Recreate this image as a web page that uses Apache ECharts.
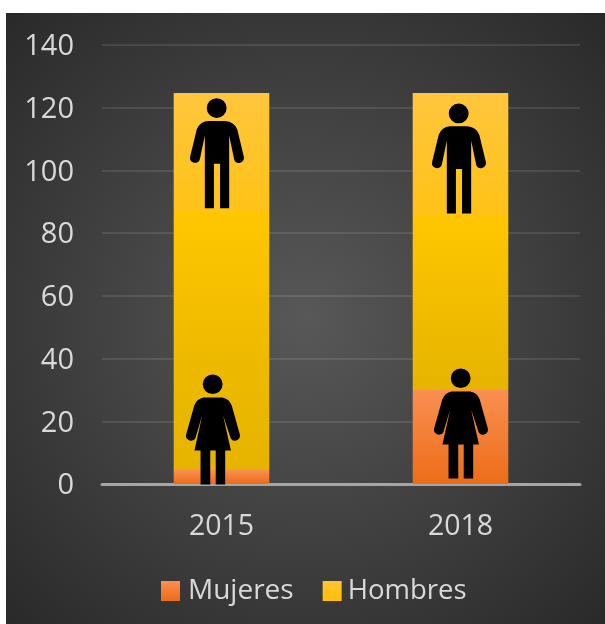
<!DOCTYPE html>
<html>
<head>
<meta charset="utf-8">
<title>Mujeres y Hombres</title>
<script src="https://cdn.jsdelivr.net/npm/echarts@6/dist/echarts.min.js"></script>
<style>
html, body { margin: 0; padding: 0; background: #fff; overflow: hidden; }
#chart-container { position: absolute; left: 6px; top: 13px; width: 599px; height: 611px; }
</style>
</head>
<body>
<div id="chart-container"></div>
<script>
var categories = ['2015', '2018'];
var mujeres = [4.5, 30];
var hombres = [120.2, 94.7];
// icon centres, read in axis units
var manValues = [105.5, 103.8];
var womanValues = [17.4, 19.3];

var manPath = 'path://M26.7 0A9.8 9.8 0 1 1 26.69 0ZM18 22.5L35 22.5Q44 23 47 31L53.5 58A5 5 0 0 1 44 61L39 37L39 109L30 109L30 65L24 65L24 109L15 109L15 37L10 61A5 5 0 0 1 0.5 58L7 31Q10 23 18 22.5Z';
var womanPath = 'path://M26.7 0A9.8 9.8 0 1 1 26.69 0ZM18 23L36 23Q43 24 45.5 31L53.5 60A5 5 0 0 1 44.5 64L37 41L44.7 76L39 76L39 110L29.7 110L29.7 76L24.3 76L24.3 110L14.7 110L14.7 76L8.7 76L16.3 41L9.5 64A5 5 0 0 1 0.5 60L8.5 31Q11 24 18 23Z';

function vert(stops) {
    return new echarts.graphic.LinearGradient(0, 0, 0, 1, stops.map(function (s) {
        return { offset: s[0], color: s[1] };
    }));
}

var orange = vert([[0, '#fa8f52'], [1, '#ec6d17']]);
var yellow = vert([[0, '#ffc535'], [1, '#ffc000']]);

var option = {
    backgroundColor: new echarts.graphic.RadialGradient(0.5, 0.5, 0.72, [
        { offset: 0, color: '#585858' },
        { offset: 1, color: '#292929' }
    ]),
    animation: false,
    textStyle: { fontFamily: '"Open Sans"' },
    legend: {
        data: [
            { name: 'Mujeres' },
            { name: 'Hombres', textStyle: { color: '#d9d9d9', fontSize: 27.5, padding: [4, 0, 0, 1] } }
        ],
        bottom: 14,
        left: 150,
        itemWidth: 19,
        itemHeight: 20,
        itemGap: 29,
        icon: 'rect',
        textStyle: { color: '#d9d9d9', fontSize: 28, padding: [4, 0, 0, 3] }
    },
    grid: { left: 96, right: 25, top: 32, bottom: 140 },
    xAxis: {
        type: 'category',
        data: categories,
        axisTick: { show: false },
        axisLine: { lineStyle: { color: '#a6a6a6', width: 3 } },
        axisLabel: { color: '#d9d9d9', fontSize: 28.5, margin: 28 }
    },
    yAxis: {
        type: 'value',
        min: 0,
        max: 140,
        interval: 20,
        axisLine: { show: false },
        axisTick: { show: false },
        splitLine: { lineStyle: { color: 'rgba(255,255,255,0.1)', width: 2 } },
        axisLabel: { color: '#d9d9d9', fontSize: 29, margin: 28, verticalAlign: 'top', lineHeight: 4 }
    },
    series: [
        {
            name: 'Mujeres',
            type: 'bar',
            stack: 'total',
            barWidth: '40%',
            itemStyle: { color: orange },
            data: mujeres
        },
        {
            name: 'Hombres',
            type: 'bar',
            stack: 'total',
            itemStyle: { color: yellow },
            data: [
                {
                    value: hombres[0],
                    itemStyle: { color: vert([[0, '#ffc63d'], [0.316, '#ffc217'], [0.316, '#ffc700'], [0.73, '#edb900'], [1, '#e6b400']]) }
                },
                {
                    value: hombres[1],
                    itemStyle: { color: vert([[0, '#ffc63d'], [0.41, '#ffc217'], [0.41, '#ffc700'], [1, '#e6b400']]) }
                }
            ]
        },
        {
            name: 'Iconos hombre',
            type: 'scatter',
            symbol: manPath,
            symbolSize: [54, 110],
            z: 5,
            silent: true,
            itemStyle: { color: '#000', opacity: 1 },
            data: [
                { value: [0, manValues[0]], symbolOffset: [-4.5, 0] },
                { value: [1, manValues[1]], symbolOffset: [-1.5, 0] }
            ]
        },
        {
            name: 'Iconos mujer',
            type: 'scatter',
            symbol: womanPath,
            symbolSize: [54, 110],
            z: 5,
            silent: true,
            itemStyle: { color: '#000', opacity: 1 },
            data: [
                { value: [0, womanValues[0]], symbolOffset: [-8.5, 0] },
                { value: [1, womanValues[1]], symbolOffset: [0.5, 0] }
            ]
        }
    ]
};

var myChart = echarts.init(document.getElementById('chart-container'));
myChart.setOption(option);
</script>
</body>
</html>
